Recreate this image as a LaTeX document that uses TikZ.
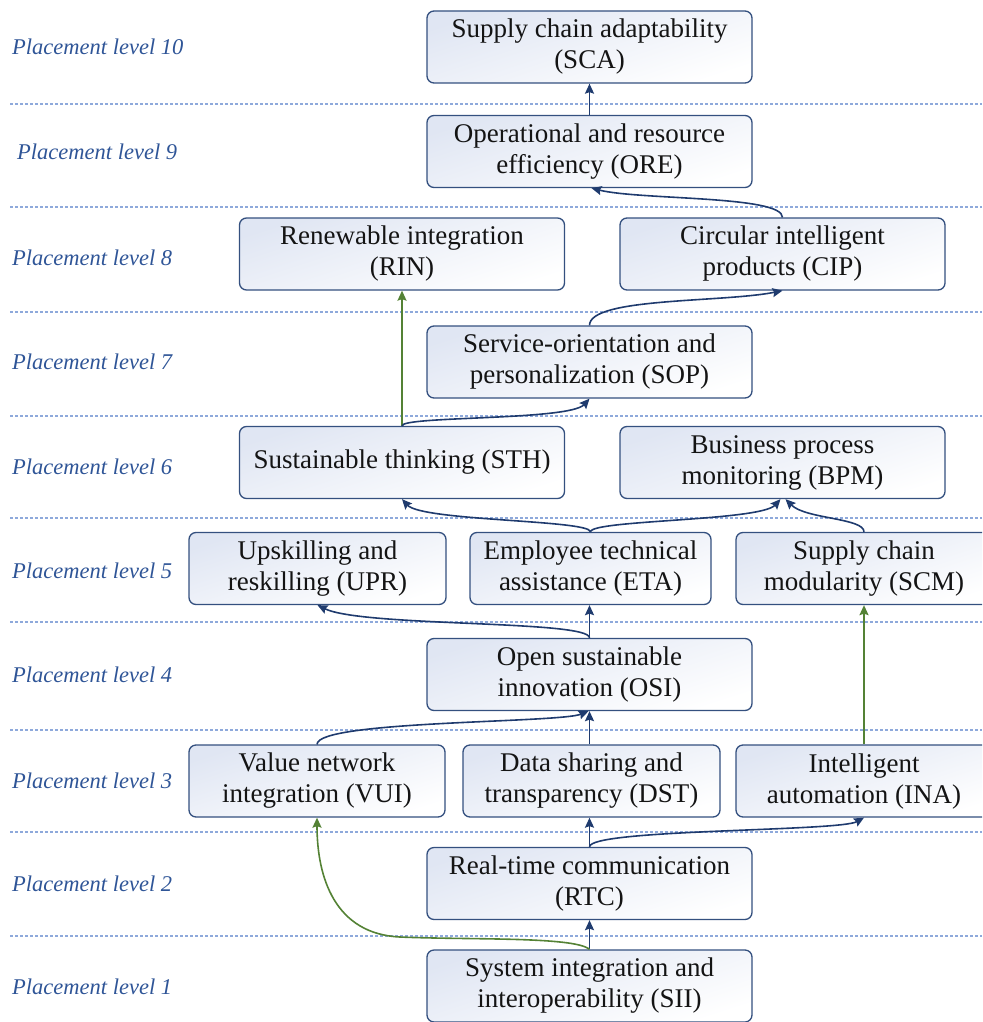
\documentclass[tikz,border=0pt]{standalone}
\usepackage{fontspec}
\setmainfont{Liberation Serif}
\usetikzlibrary{arrows.meta}

\definecolor{navy}{HTML}{1F3B6E}
\definecolor{leaf}{HTML}{548235}
\definecolor{boxedge}{HTML}{34507F}
\definecolor{tint}{HTML}{E0E6F3}
\definecolor{lvlblue}{HTML}{2F5597}
\definecolor{rulecol}{HTML}{8EA9DB}

\tikzset{
  box/.style={draw=boxedge, line width=1.3pt, rounded corners=7pt,
    top color=tint, bottom color=white, shading angle=18,
    minimum height=72pt, align=center, inner sep=2pt,
    font=\fontsize{27}{31}\selectfont, text=black!92},
  wide/.style={box, minimum width=325pt},
  narrow/.style={box, minimum width=256pt},
  lvl/.style={anchor=west, text=lvlblue, inner sep=0pt,
    font=\fontsize{22.5}{26}\selectfont\itshape},
  levelrule/.style={draw=rulecol, line width=1.2pt, dash pattern=on 3pt off 2pt},
  conn/.style={draw=navy, line width=1.6pt,
    -{Stealth[length=10pt,width=9pt,inset=1.5pt]}},
  greenconn/.style={conn, draw=leaf},
}

\begin{document}
\begin{tikzpicture}[x=1pt, y=-1pt]
\useasboundingbox (0,0) rectangle (982,1022);
\clip (0,0) rectangle (982,1022);

% level separators
\foreach \yy in {104,207,312,416,518,622,730,832,936}
  \draw[levelrule] (10,\yy) -- (982,\yy);

% level captions
\node[lvl] (L10) at (12,47)  {Placement level 10};
\node[lvl] (L9)  at (17,152) {Placement level 9};
\node[lvl] (L8)  at (12,258) {Placement level 8};
\node[lvl] (L7)  at (12,362) {Placement level 7};
\node[lvl] (L6)  at (12,467) {Placement level 6};
\node[lvl] (L5)  at (12,571) {Placement level 5};
\node[lvl] (L4)  at (12,675) {Placement level 4};
\node[lvl] (L3)  at (12,781) {Placement level 3};
\node[lvl] (L2)  at (12,884) {Placement level 2};
\node[lvl] (L1)  at (12,987) {Placement level 1};

% factors
\node[wide]   (SCA) at (589.5,47)    {Supply chain adaptability\\(SCA)};
\node[wide]   (ORE) at (589.5,151.5) {Operational and resource\\efficiency (ORE)};
\node[wide]   (RIN) at (402,254)     {Renewable integration\\(RIN)};
\node[wide]   (CIP) at (782.5,254)   {Circular intelligent\\products (CIP)};
\node[wide]   (SOP) at (589.5,362)   {Service-orientation and\\personalization (SOP)};
\node[wide]   (STH) at (402,462.5)   {Sustainable thinking (STH)};
\node[wide]   (BPM) at (782.5,462.5) {Business process\\monitoring (BPM)};
\node[narrow, minimum width=257pt] (UPR) at (317.5,568.5) {Upskilling and\\reskilling (UPR)};
\node[narrow, minimum width=241pt] (ETA) at (590.5,568.5) {Employee technical\\assistance (ETA)};
\node[narrow] (SCM) at (864,568.5)   {Supply chain\\modularity (SCM)};
\node[wide]   (OSI) at (589.5,674.5) {Open sustainable\\innovation (OSI)};
\node[narrow] (VUI) at (317,781)     {Value network\\integration (VUI)};
\node[narrow, minimum width=257pt] (DST) at (591.5,781) {Data sharing and\\transparency (DST)};
\node[narrow] (INA) at (864,781)     {Intelligent\\automation (INA)};
\node[wide]   (RTC) at (589.5,883.5) {Real-time communication\\(RTC)};
\node[wide]   (SII) at (589.5,986)   {System integration and\\interoperability (SII)};

% influences
\draw[conn] (ORE.north) -- (SCA.south);
\draw[conn] (CIP.north) .. controls +(0,-22) and +(48,12) .. ([xshift=2pt]ORE.south);
\draw[conn] (SOP.north) .. controls +(0,-28) and +(-60,12) .. (CIP.south);
\draw[greenconn] (STH.north) -- (RIN.south);
\draw[conn] (STH.north) .. controls +(0,-10) and +(-20,22) .. (SOP.south);
\draw[conn] (ETA.north) .. controls +(0,-12) and +(20,22) .. (STH.south);
\draw[conn] (ETA.north) .. controls +(0,-12) and +(-20,22) .. ([xshift=-2pt]BPM.south);
\draw[conn] (SCM.north) .. controls +(0,-14) and +(20,20) .. ([xshift=3pt]BPM.south);
\draw[conn] (OSI.north) -- (OSI.north |- ETA.south);
\draw[conn] (OSI.north) .. controls +(0,-18) and +(45,22) .. (UPR.south);
\draw[conn] (VUI.north) .. controls +(0,-24) and +(-30,12) .. ([xshift=-1pt]OSI.south);
\draw[conn] (OSI.south |- DST.north) -- (OSI.south);
\draw[greenconn] (INA.north) -- (SCM.south);
\draw[conn] (RTC.north) -- (RTC.north |- DST.south);
\draw[conn] (RTC.north) .. controls +(0,-18) and +(-25,14) .. (INA.south);
\draw[conn] (SII.north) -- (RTC.south);
\coordinate (bend) at (400,937);
\draw[greenconn] (SII.north) .. controls +(-15,-13) and +(70,3) .. (bend)
  .. controls +(-65,-3) and +(0,60) .. (VUI.south);
\end{tikzpicture}
\end{document}
